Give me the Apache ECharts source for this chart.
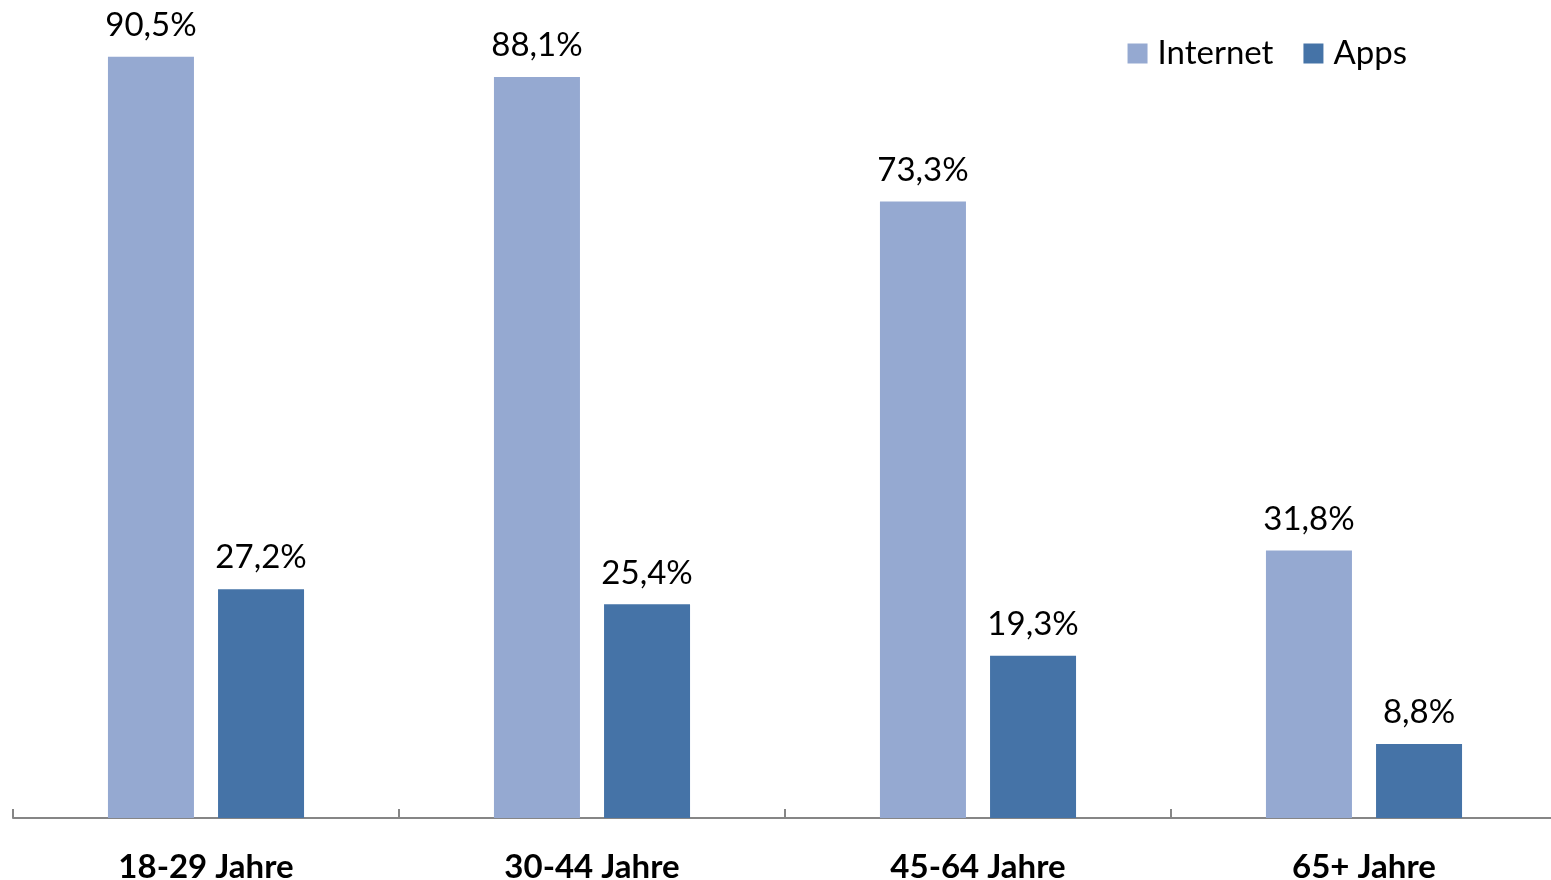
<!DOCTYPE html>
<html><head><meta charset="utf-8">
<script src="https://cdn.jsdelivr.net/npm/echarts@6/dist/echarts.min.js"></script>
<style>html,body{margin:0;padding:0;background:#fff}#c{width:1551px;height:880px}</style>
</head><body><div id="c"></div>
<script>
const categories = ['18-29 Jahre', '30-44 Jahre', '45-64 Jahre', '65+ Jahre'];
const internetValues = [90.5, 88.1, 73.3, 31.8];
const appsValues = [27.2, 25.4, 19.3, 8.8];
const seriesNames = ['Internet', 'Apps'];

const FONT = 'Lato, "Open Sans", sans-serif';
const chart = echarts.init(document.getElementById('c'), null, {renderer: 'canvas'});
const fmt = p => String(p.value.toFixed(1)).replace('.', ',') + '%';
const labelStyle = {show: true, position: 'top', distance: 15, formatter: fmt, fontFamily: FONT, fontSize: 33, color: '#000'};
chart.setOption({
  animation: false,
  grid: {left: 13, right: -6, top: 19, bottom: 62, containLabel: false, outerBoundsMode: 'none'},
  legend: {
    data: seriesNames, right: 139, top: 32, itemWidth: 20, itemHeight: 20, itemGap: 30,
    icon: 'rect',
    textStyle: {fontFamily: FONT, fontSize: 33, color: '#000', padding: [0,0,0,5]}
  },
  xAxis: {
    type: 'category', data: categories,
    axisLine: {lineStyle: {color: '#868686', width: 2}},
    axisTick: {show: true, inside: true, length: 9, lineStyle: {color: '#868686', width: 2}},
    axisLabel: {fontFamily: FONT, fontSize: 33, fontWeight: 'bold', color: '#000', margin: 33}
  },
  yAxis: {type: 'value', min: 0, max: 95, show: false, splitLine: {show: false}},
  series: [
    {name: 'Internet', type: 'bar', data: internetValues, barWidth: 86, barGap: '28%',
     itemStyle: {color: '#95A9D1'}, label: labelStyle},
    {name: 'Apps', type: 'bar', data: appsValues, barWidth: 86,
     itemStyle: {color: '#4573A7'}, label: labelStyle}
  ]
});
</script></body></html>
